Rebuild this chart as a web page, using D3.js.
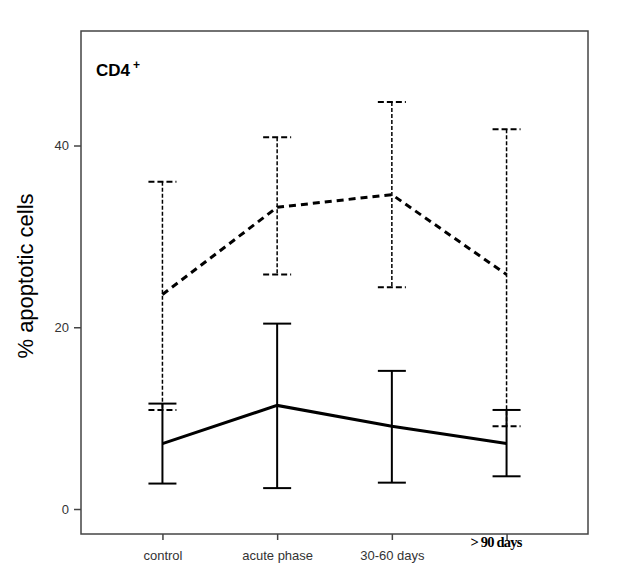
<!DOCTYPE html>
<html>
<head>
<meta charset="utf-8">
<script src="https://cdn.jsdelivr.net/npm/d3@7"></script>
<style>
body { margin: 0; background: #fff; }
</style>
</head>
<body>
<script>
// chart size
var W = 619, H = 586;

// categories on the x axis
var groups = ["control", "acute phase", "30-60 days", "> 90 days"];

// solid line series (mean, upper, lower)
var solidMean  = [7.2, 11.4, 9.1, 7.2];
var solidHigh  = [11.6, 20.4, 15.2, 10.9];
var solidLow   = [2.8, 2.3, 2.9, 3.6];

// dashed line series (mean, upper, lower)
var dashMean = [23.6, 33.2, 34.6, 25.8];
var dashHigh = [36.0, 40.9, 44.8, 41.8];
var dashLow  = [10.9, 25.8, 24.4, 9.1];

var yTicks = [0, 20, 40];

var margin = {left: 81, right: 31, top: 31, bottom: 52};

var svg = d3.select("body").append("svg")
  .attr("width", W)
  .attr("height", H)
  .style("font-family", "Arial, 'Liberation Sans', sans-serif");

var x = d3.scalePoint()
  .domain(groups)
  .range([margin.left, W - margin.right])
  .padding(0.71);

var y = d3.scaleLinear()
  .domain([-2.75, 52.6])
  .range([H - margin.bottom, margin.top]);

//frame
svg.append("rect")
  .attr("x", margin.left)
  .attr("y", margin.top)
  .attr("width", W - margin.left - margin.right)
  .attr("height", H - margin.top - margin.bottom)
  .style("fill", "none")
  .style("stroke", "#444")
  .style("stroke-width", 1.5);

//axes
var yAxis = svg.append("g")
  .attr("transform", "translate(" + margin.left + ",0)")
  .call(d3.axisLeft(y).tickValues(yTicks).tickSize(7).tickPadding(5));
var xAxis = svg.append("g")
  .attr("transform", "translate(0," + (H - margin.bottom) + ")")
  .call(d3.axisBottom(x).tickSize(6).tickPadding(11));

[yAxis, xAxis].forEach(function(a) {
  a.select(".domain").remove();
  a.selectAll("line").style("stroke", "#444").style("stroke-width", 1.5);
  a.selectAll("text").style("font-size", "13px").style("fill", "#333")
    .style("font-family", "Arial, 'Liberation Sans', sans-serif");
});

xAxis.selectAll("text").filter(function(d) { return d == "> 90 days"; })
  .style("font-family", "'Liberation Serif', serif")
  .style("font-weight", "bold")
  .style("font-size", "14.5px")
  .style("fill", "#000")
  .style("letter-spacing", "-0.8px")
  .attr("dx", -11)
  .attr("dy", "-0.3em");

//y label
svg.append("text")
  .attr("transform", "translate(33," + 276 + ") rotate(-90)")
  .attr("text-anchor", "middle")
  .style("font-size", "22px")
  .text("% apoptotic cells");

//panel title
var title = svg.append("text")
  .attr("x", 96)
  .attr("y", 76)
  .style("font-size", "17px")
  .style("font-weight", "bold")
  .text("CD4");
title.append("tspan")
  .attr("dx", 3)
  .attr("dy", -7)
  .style("font-size", "12px")
  .text("+");

function drawSeries(mean, hi, lo, dashed) {
  var g = svg.append("g");
  var barDash = dashed ? "4,2" : null;
  var capDash = dashed ? "6,3" : null;
  groups.forEach(function(c, i) {
    g.append("line")
      .attr("x1", x(c)).attr("x2", x(c))
      .attr("y1", y(hi[i])).attr("y2", y(lo[i]))
      .style("stroke", "#000")
      .style("stroke-width", dashed ? 1.5 : 2)
      .style("stroke-dasharray", barDash);
    [hi[i], lo[i]].forEach(function(v) {
      g.append("line")
        .attr("x1", x(c) - 14).attr("x2", x(c) + 14)
        .attr("y1", y(v)).attr("y2", y(v))
        .style("stroke", "#000")
        .style("stroke-width", 2)
        .style("stroke-dasharray", capDash);
    });
  });
  var line = d3.line()
    .x(function(d, i) { return x(groups[i]); })
    .y(function(d) { return y(d); });
  g.append("path")
    .datum(mean)
    .attr("d", line)
    .style("fill", "none")
    .style("stroke", "#000")
    .style("stroke-width", 3)
    .style("stroke-dasharray", dashed ? "7,5" : null);
}

drawSeries(dashMean, dashHigh, dashLow, true);
drawSeries(solidMean, solidHigh, solidLow, false);
</script>
</body>
</html>
